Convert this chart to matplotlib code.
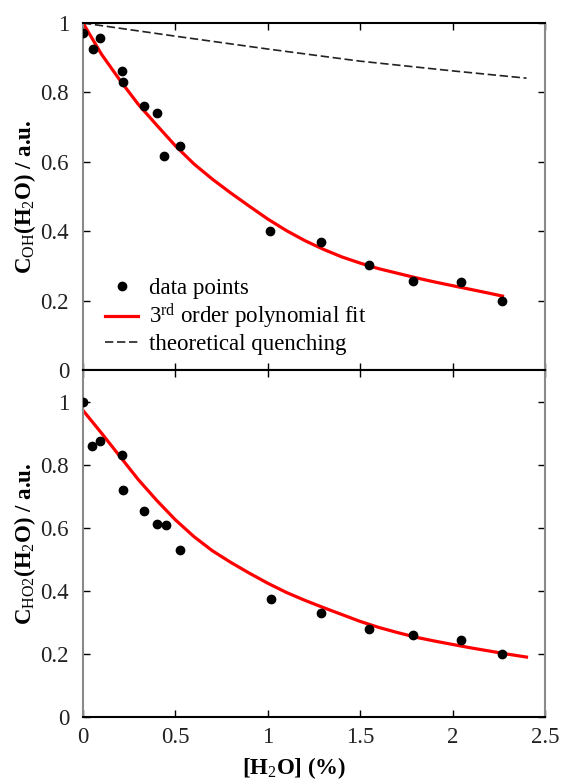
import numpy as np
import matplotlib
matplotlib.use("Agg")
import matplotlib.pyplot as plt
from matplotlib.ticker import FormatStrFormatter, MultipleLocator

plt.rcParams['font.family'] = ['Liberation Serif', 'DejaVu Serif']
plt.rcParams['mathtext.fontset'] = 'custom'
plt.rcParams['mathtext.rm'] = 'Liberation Serif'
plt.rcParams['mathtext.bf'] = 'Liberation Serif:bold'
plt.rcParams['mathtext.it'] = 'Liberation Serif:italic'

# OH signal: measured points
oh_x = [0.0, 0.054, 0.092, 0.21, 0.215, 0.33, 0.40, 0.44, 0.525, 1.01, 1.29, 1.55, 1.785, 2.045, 2.27]
oh_y = [0.971, 0.925, 0.957, 0.862, 0.830, 0.761, 0.740, 0.617, 0.646, 0.400, 0.369, 0.303, 0.257, 0.253, 0.199]

# OH signal: 3rd order polynomial fit
oh_fit_x = [0.0, 0.1, 0.2, 0.3, 0.4, 0.5, 0.6, 0.7, 0.8, 0.9, 1.0, 1.1, 1.2,
            1.3, 1.4, 1.5, 1.6, 1.7, 1.8, 1.9, 2.0, 2.1, 2.2, 2.27]
oh_fit_y = [1.0, 0.91, 0.835, 0.765, 0.705, 0.646, 0.594, 0.55, 0.51, 0.472, 0.435, 0.402, 0.373,
            0.348, 0.326, 0.308, 0.292, 0.279, 0.266, 0.254, 0.243, 0.232, 0.221, 0.213]

# theoretical quenching curve
q_x = [0.0, 0.5, 1.0, 1.5, 2.0, 2.4]
q_y = [1.0, 0.962, 0.925, 0.890, 0.862, 0.841]

# HO2 signal: measured points
ho2_x = [0.0, 0.05, 0.09, 0.21, 0.215, 0.33, 0.40, 0.45, 0.525, 1.015, 1.29, 1.55, 1.785, 2.045, 2.265]
ho2_y = [1.0, 0.86, 0.876, 0.832, 0.72, 0.654, 0.613, 0.61, 0.53, 0.375, 0.33, 0.28, 0.26, 0.243, 0.20]

# HO2 signal: 3rd order polynomial fit
ho2_fit_x = [0.0, 0.1, 0.2, 0.3, 0.4, 0.5, 0.6, 0.7, 0.8, 0.9, 1.0, 1.1, 1.2,
             1.3, 1.4, 1.5, 1.6, 1.7, 1.8, 1.9, 2.0, 2.1, 2.2, 2.3, 2.4]
ho2_fit_y = [0.972, 0.9, 0.826, 0.752, 0.686, 0.625, 0.572, 0.527, 0.49, 0.456, 0.424, 0.395, 0.37,
             0.347, 0.325, 0.303, 0.284, 0.268, 0.253, 0.241, 0.23, 0.219, 0.209, 0.199, 0.19]

fig = plt.figure(figsize=(5.61, 7.8), dpi=100)
W, H = 561, 780
ax1 = fig.add_axes([83 / W, 1 - 370 / H, 462 / W, 347 / H])
ax2 = fig.add_axes([83 / W, 1 - 717 / H, 462 / W, 347 / H], sharex=ax1)

ax1.plot(oh_x, oh_y, 'o', color='black', markersize=6, label='data points', zorder=3)
ax1.plot(oh_fit_x, oh_fit_y, '-', color='#ff0000', lw=2.3, label='3$^{\\rm rd}$ order polynomial fit')
ax1.plot(q_x, q_y, '--', color='#222222', lw=1.2, dashes=(5, 2.2), label='theoretical quenching')

ax2.plot(ho2_x, ho2_y, 'o', color='black', markersize=6, zorder=3)
ax2.plot(ho2_fit_x, ho2_fit_y, '-', color='#ff0000', lw=2.3)

ax1.set_xlim(0, 2.5)
ax1.set_ylim(0, 1)
ax2.set_ylim(0, 1.1)

fs = 16.5
for ax in (ax1, ax2):
    ax.xaxis.set_major_locator(MultipleLocator(0.5))
    ax.yaxis.set_major_locator(MultipleLocator(0.2))
    ax.xaxis.set_major_formatter(FormatStrFormatter('%g'))
    ax.yaxis.set_major_formatter(FormatStrFormatter('%g'))
    ax.tick_params(direction='in', length=5, width=1, top=True, right=True,
                   labelsize=fs, colors='black', labelcolor='#222222')
    ax.tick_params(axis='y', pad=10)
    for s in ('left', 'right'):
        ax.spines[s].set_color('#8a8a8a')
        ax.spines[s].set_linewidth(1.5)
    for s in ('top', 'bottom'):
        ax.spines[s].set_linewidth(1.5)

ax1.tick_params(labelbottom=False)
ax2.tick_params(axis='x', pad=7)
ax2.set_yticks([0, 0.2, 0.4, 0.6, 0.8, 1.0])

ax1.set_ylabel(r'C$_{\rm OH}$(H$_{\rm 2}$O) / a.u.', fontsize=fs, fontweight='bold')
ax1.yaxis.set_label_coords(-0.097, 0.5)
ax2.set_ylabel(r'C$_{\rm HO2}$(H$_{\rm 2}$O) / a.u.', fontsize=fs, fontweight='bold')
ax2.yaxis.set_label_coords(-0.097, 0.5)
ax2.set_xlabel(r'[H$_{\rm 2}$O] (%)', fontsize=fs, fontweight='bold')
ax2.xaxis.set_label_coords(0.457, -0.11)

ax1.legend(loc='upper left', bbox_to_anchor=(22 / 462, 0.265), frameon=False, fontsize=fs,
           handlelength=1.45, handletextpad=0.45, labelspacing=0.12,
           borderpad=0, borderaxespad=0)

fig.savefig('out.png', dpi=100)
